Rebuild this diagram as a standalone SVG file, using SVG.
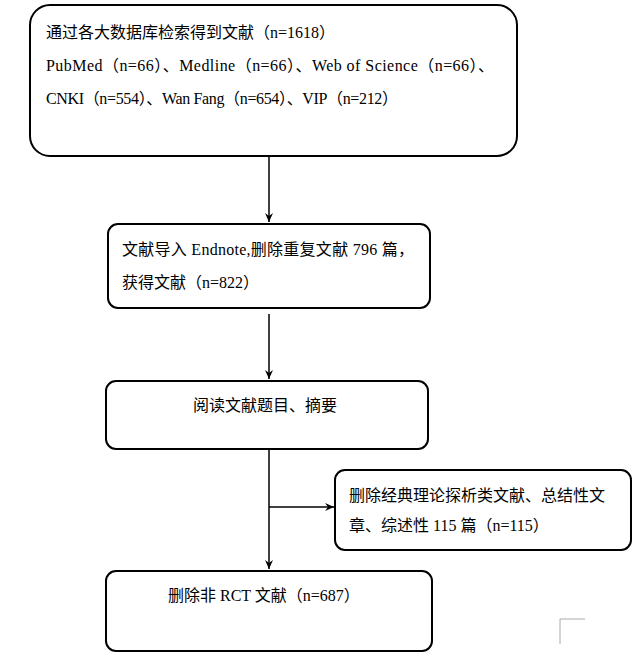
<svg xmlns="http://www.w3.org/2000/svg" width="636" height="660" viewBox="0 0 636 660">
<defs>
<style>
.b{fill:#fff;stroke:#000;stroke-width:2}
.t{font-family:"Liberation Serif","Noto Sans CJK SC",serif;font-size:16px;fill:#000}
.c{stroke:#000;stroke-width:1.5;fill:none}
</style>
<marker id="a" markerWidth="10" markerHeight="10" refX="9" refY="5" orient="auto" markerUnits="userSpaceOnUse"><path d="M0,1 L9,5 L0,9 L3,5 Z" fill="#000"/></marker>
</defs>
<rect width="636" height="660" fill="#fff"/>
<g id="connectors">
<line class="c" x1="269" y1="157" x2="269" y2="222" marker-end="url(#a)"/>
<line class="c" x1="269" y1="314" x2="269" y2="379" marker-end="url(#a)"/>
<line class="c" x1="269" y1="450" x2="269" y2="569" marker-end="url(#a)"/>
<line class="c" x1="269" y1="507" x2="334" y2="507" marker-end="url(#a)"/>
</g>
<g id="n1"><rect class="b" x="30" y="5" width="487" height="151" rx="20"/>
<text class="t" x="46" y="38">通过各大数据库检索得到文献（n=1618）</text>
<text class="t" x="46" y="71" textLength="448">PubMed（n=66）、Medline（n=66）、Web of Science（n=66）、</text>
<text class="t" x="46" y="104" textLength="352">CNKI（n=554）、Wan Fang（n=654）、VIP（n=212）</text></g>
<g id="n2"><rect class="b" x="108" y="224" width="322" height="84" rx="10"/>
<text class="t" x="122" y="255" textLength="292">文献导入 Endnote,删除重复文献 796 篇，</text>
<text class="t" x="122" y="288">获得文献（n=822）</text></g>
<g id="n3"><rect class="b" x="106" y="381" width="322" height="68" rx="10"/>
<text class="t" x="193" y="411">阅读文献题目、摘要</text></g>
<g id="n4"><rect class="b" x="335" y="470" width="296" height="80" rx="10"/>
<text class="t" x="349" y="501">删除经典理论探析类文献、总结性文</text>
<text class="t" x="349" y="531">章、综述性 115 篇（n=115）</text></g>
<g id="n5"><rect class="b" x="106" y="571" width="326" height="80" rx="10"/>
<text class="t" x="168" y="601">删除非 RCT 文献（n=687）</text></g>
<path d="M560,644 V619 H585" stroke="#aaa" stroke-width="1" fill="none"/>
</svg>
